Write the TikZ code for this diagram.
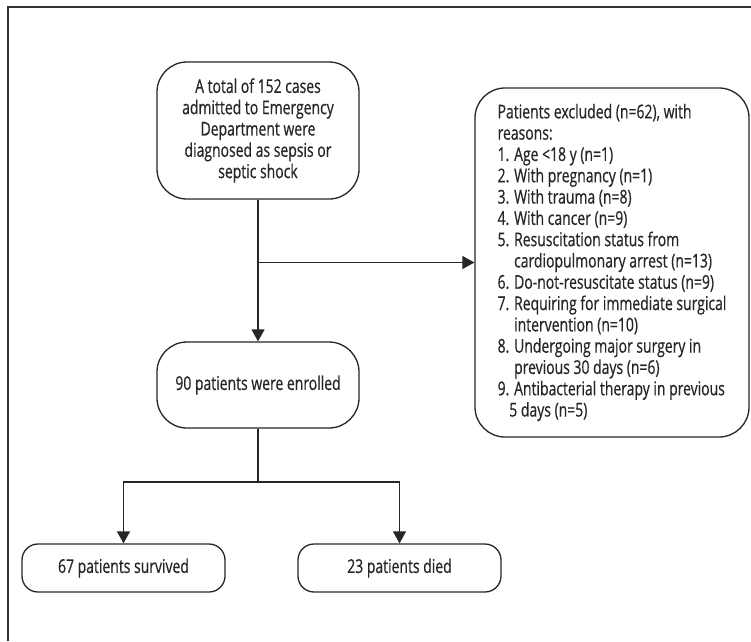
\documentclass[tikz,border=0pt]{standalone}
\usepackage{fontspec}
\setmainfont{Open Sans}[FakeStretch=0.735,FakeBold=0.5]
\usetikzlibrary{arrows.meta}
\begin{document}
\begin{tikzpicture}[x=1pt,y=-1pt,
  every node/.style={font=\fontsize{19}{21.3}\selectfont, text=black!85},
  bigbox/.style={draw=black!85, line width=1.3pt, rounded corners=30pt, inner sep=0pt, align=center},
  smallbox/.style={draw=black!85, line width=1.3pt, rounded corners=16pt, inner sep=0pt,
     minimum width=203pt, minimum height=48pt},
  conn/.style={draw=black!85, line width=1.3pt},
  arr/.style={conn, -{Triangle[width=13pt,length=12pt]}}]
\useasboundingbox (0,0) rectangle (751,641);
\fill[white] (0,0) rectangle (751,641);
\draw[black!80, line width=1.6pt] (8,641) -- (8,7) -- (752,7);

\node[bigbox, minimum width=202pt, minimum height=137pt] (top) at (258,130.5)
  {A total of 152 cases\\admitted to Emergency\\Department were\\diagnosed as sepsis or\\septic shock};
\node[bigbox, minimum width=202pt, minimum height=86pt] (enr) at (258,385)
  {90 patients were enrolled};
\node[bigbox, align=left, minimum width=274pt, minimum height=349pt] (exc) at (612,262.5)
  {Patients excluded (n=62), with\\
   reasons:\\
   1. Age <18 y (n=1)\\
   2. With pregnancy (n=1)\\
   3. With trauma (n=8)\\
   4. With cancer (n=9)\\
   5. Resuscitation status from\\
   \phantom{5. }cardiopulmonary arrest (n=13)\\
   6. Do-not-resuscitate status (n=9)\\
   7. Requiring for immediate surgical\\
   \phantom{7. }intervention (n=10)\\
   8. Undergoing major surgery in\\
   \phantom{8. }previous 30 days (n=6)\\
   9. Antibacterial therapy in previous\\
   \phantom{9.}5 days (n=5)};
\node[smallbox] (surv) at (123.5,568) {67 patients survived};
\node[smallbox] (died) at (399.5,568) {23 patients died};

\coordinate (j) at (top.south |- exc.west);
\coordinate (split) at (258,482);
\draw[arr] (top.south) -- (enr.north);
\draw[arr] (j) -- (exc.west);
\draw[conn] (enr.south) -- (split);
\draw[arr] (split) -| (surv.north);
\draw[arr] (split) -| (died.north);
\end{tikzpicture}
\end{document}
